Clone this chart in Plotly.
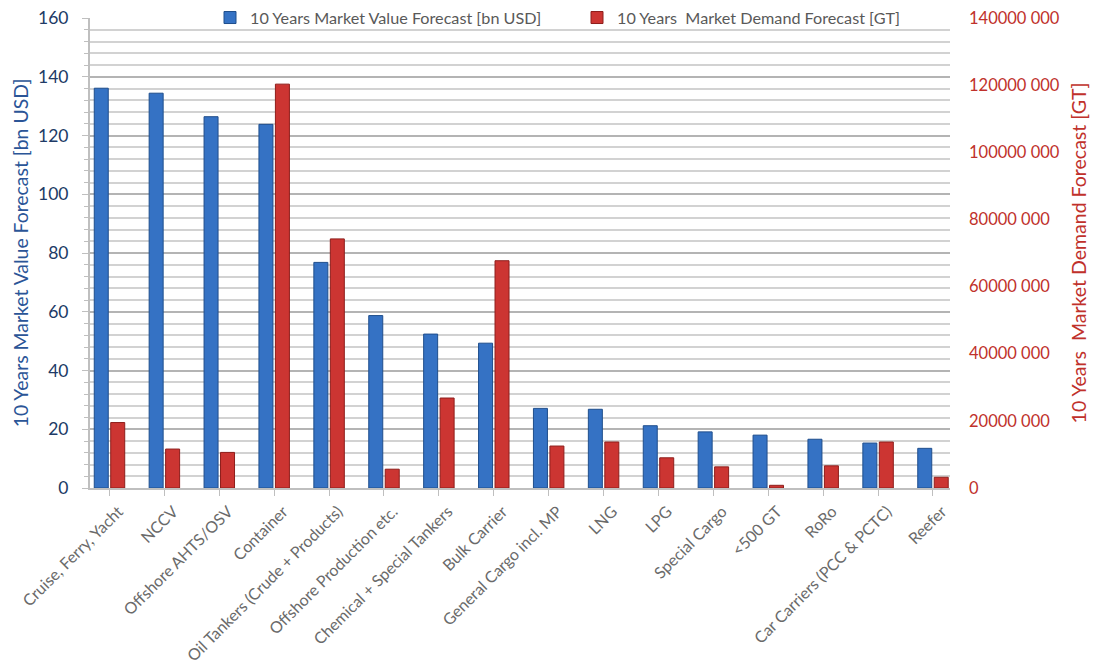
import plotly.graph_objects as go

categories = ["Cruise, Ferry, Yacht", "NCCV", "Offshore AHTS/OSV", "Container",
              "Oil Tankers (Crude + Products)", "Offshore Production etc.",
              "Chemical + Special Tankers", "Bulk Carrier", "General Cargo incl. MP",
              "LNG", "LPG", "Special Cargo", "<500 GT", "RoRo",
              "Car Carriers (PCC & PCTC)", "Reefer"]

value_bn_usd = [136.1, 134.4, 126.4, 123.8, 76.8, 58.7, 52.4, 49.3,
                27.1, 26.8, 21.2, 19.1, 18.0, 16.6, 15.3, 13.5]

demand_gt = [19500000, 11600000, 10600000, 120300000, 74200000, 5600000,
             26800000, 67700000, 12500000, 13700000, 9000000, 6300000,
             800000, 6600000, 13700000, 3200000]

left_ticks = [0, 20, 40, 60, 80, 100, 120, 140, 160]
right_tickvals = [0, 20000000, 40000000, 60000000, 80000000, 100000000, 120000000, 140000000]
right_ticktext = ["0", "20000 000", "40000 000", "60000 000", "80000 000",
                  "100000 000", "120000 000", "140000 000"]

FONT = "Lato"
GRAY = "#595959"
XGRAY = "#6A6A6A"
BLUE_T = "#203A66"
BLUE_TITLE = "#2B5597"
RED_T = "#C0312B"

fig = go.Figure()
fig.add_trace(go.Bar(
    x=categories, y=value_bn_usd, name="10 Years Market Value Forecast [bn USD]",
    marker=dict(color="#3572C4", line=dict(color="#1F4E8C", width=1)),
    offsetgroup="a", yaxis="y"))
fig.add_trace(go.Bar(
    x=categories, y=demand_gt, name="10 Years  Market Demand Forecast [GT]",
    marker=dict(color="#CC3532", line=dict(color="#8E1E1B", width=1)),
    offsetgroup="b", yaxis="y2"))

fig.update_layout(
    width=1094, height=669,
    margin=dict(l=90, r=144, t=18, b=181, autoexpand=False),
    paper_bgcolor="white", plot_bgcolor="white",
    barmode="group", bargap=0.40, bargroupgap=0.15,
    font=dict(family=FONT, color=GRAY, size=14),
    legend=dict(orientation="h", x=(210 - 90) / 860, xanchor="left", y=1.0, yanchor="middle",
                bgcolor="rgba(0,0,0,0)", font=dict(size=16.2, color=GRAY),
                entrywidth=322, entrywidthmode="pixels", traceorder="normal"),
    xaxis=dict(tickangle=-45, tickfont=dict(size=16, color=XGRAY),
               ticklabelshift=9,
               showline=True, linecolor="#BFBFBF", linewidth=2,
               ticks="outside", tickcolor="#BFBFBF", ticklen=6,
               range=[-0.355, 15.31]),
    yaxis=dict(range=[0, 160], tickvals=left_ticks,
               tickfont=dict(size=17.5, color=BLUE_T), ticklabelstandoff=10,
               title=dict(text="10 Years Market Value Forecast [bn USD]",
                          font=dict(size=19.4, color=BLUE_TITLE), standoff=4),
               showgrid=True, gridcolor="#B4B4B4", gridwidth=2,
               minor=dict(dtick=4, showgrid=True, gridcolor="#D2D2D2", gridwidth=2,
                          ticks="outside", ticklen=4, tickcolor="#BFBFBF"),
               showline=True, linecolor="#BFBFBF", linewidth=2,
               ticks="outside", ticklen=6, tickcolor="#BFBFBF",
               zeroline=False),
    yaxis2=dict(range=[0, 140000000], overlaying="y", side="right",
                tickvals=right_tickvals, ticktext=right_ticktext,
                tickfont=dict(size=16.5, color=RED_T), ticklabelstandoff=18,
                title=dict(text="10 Years  Market Demand Forecast [GT]",
                           font=dict(size=19.5, color=RED_T), standoff=13),
                showgrid=False, zeroline=False, showline=False),
)

fig.write_html("out.html")
